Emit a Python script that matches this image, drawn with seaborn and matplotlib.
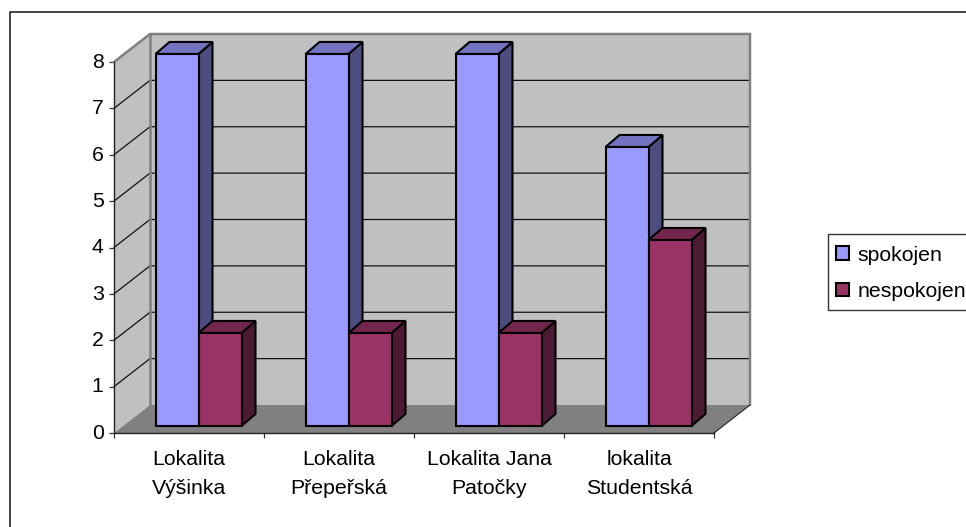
import matplotlib
matplotlib.use("Agg")
import matplotlib.pyplot as plt
from matplotlib.lines import Line2D
from matplotlib.patches import Polygon, Rectangle
from matplotlib.transforms import ScaledTranslation
import pandas as pd
import seaborn as sns

# Survey results per locality
localities = ["Lokalita\nVýšinka", "Lokalita\nPřepeřská", "Lokalita Jana\nPatočky", "lokalita\nStudentská"]
spokojen = [8, 8, 8, 6]
nespokojen = [2, 2, 2, 4]
series_names = ["spokojen", "nespokojen"]
y_ticks = [0, 1, 2, 3, 4, 5, 6, 7, 8]

# Face colours of each series: front, top, side
FACES = {
    "spokojen": ("#9999FF", "#7373BF", "#4D4D80"),
    "nespokojen": ("#993366", "#73264D", "#4D1A33"),
}

W, H = 966, 527
sns.set_theme(style="white")
plt.rcParams["font.family"] = ["Liberation Sans", "DejaVu Sans"]
FS = 15.3

fig = plt.figure(figsize=(W / 100, H / 100), dpi=100, facecolor="white")


def axes_box(left, right, bottom, top):
    """Axes rectangle from pixel edges measured from the top-left corner."""
    return [left / W, 1 - bottom / H, (right - left) / W, (bottom - top) / H]


# Front plane of the box, with the value scale and the category ticks
ax = fig.add_axes(axes_box(114, 714, 433, 62))
ax.set_xlim(-0.5, 3.5)
ax.set_ylim(0, 8)
ax.patch.set_visible(False)

# Depth of the box and of the bars, in data units
BOX_DX, BOX_DY = 36 / 150, 28 / 46.375
BAR_DX, BAR_DY = 14 / 150, 12 / 46.375

x0, x1 = ax.get_xlim()
y0, y1 = ax.get_ylim()

# Walls and floor
WALL, EDGE = "#C0C0C0", "#808080"
ax.add_patch(Polygon([(x0 + BOX_DX, y0 + BOX_DY), (x1 + BOX_DX, y0 + BOX_DY),
                      (x1 + BOX_DX, y1 + BOX_DY), (x0 + BOX_DX, y1 + BOX_DY)],
                     closed=True, fc=WALL, ec="none", clip_on=False, zorder=0.5))
ax.add_patch(Polygon([(x0, y0), (x0 + BOX_DX, y0 + BOX_DY),
                      (x0 + BOX_DX, y1 + BOX_DY), (x0, y1)],
                     closed=True, fc=WALL, ec="none", clip_on=False, zorder=0.5))

# Gridlines run along the left wall and across the back wall
for v in y_ticks[1:-1]:
    ax.plot([x0, x0 + BOX_DX, x1 + BOX_DX], [v, v + BOX_DY, v + BOX_DY],
            color="#111111", lw=0.9, clip_on=False, zorder=0.7, solid_joinstyle="miter")

ax.add_patch(Polygon([(x0, y0), (x1, y0), (x1 + BOX_DX, y0 + BOX_DY), (x0 + BOX_DX, y0 + BOX_DY)],
                     closed=True, fc=EDGE, ec="none", clip_on=False, zorder=0.8))
ax.plot([x0, x0 + BOX_DX, x1 + BOX_DX, x1 + BOX_DX],
        [y1, y1 + BOX_DY, y1 + BOX_DY, y0 + BOX_DY],
        color=EDGE, lw=1.8, clip_on=False, zorder=0.9, solid_joinstyle="miter")
ax.plot([x0 + BOX_DX, x0 + BOX_DX], [y0 + BOX_DY, y1 + BOX_DY],
        color=EDGE, lw=1.8, clip_on=False, zorder=0.9)
ax.plot([x1, x1 + BOX_DX], [y0, y0 + BOX_DY], color="#222222", lw=0.8, clip_on=False, zorder=0.9)

# Axes lines and labels
for side in ("top", "right"):
    ax.spines[side].set_visible(False)
for side in ("left", "bottom"):
    ax.spines[side].set_color("#222222")
    ax.spines[side].set_linewidth(1.0)
    ax.spines[side].set_zorder(1)
ax.set_yticks(y_ticks)
ax.set_xticks([-0.5, 0.5, 1.5, 2.5, 3.5])
ax.set_xticklabels([])
ax.set_xticks([0, 1, 2, 3], labels=localities, minor=True)
ax.tick_params(axis="both", which="major", length=3.5, width=0.9, color="#333333",
               left=True, bottom=True, labelsize=FS, labelcolor="black", pad=4)
ax.tick_params(axis="x", which="minor", length=0, bottom=False, labelsize=FS, labelcolor="black", pad=12)
for lab in ax.get_xticklabels(minor=True):
    lab.set_linespacing(1.72)
    lab.set_ha("center")
for lab in ax.get_yticklabels():
    lab.set_transform(lab.get_transform() + ScaledTranslation(0, 1.2 / 72, fig.dpi_scale_trans))

# Bars stand on a plane set slightly inside the box
bar_ax = fig.add_axes(axes_box(123.5, 723.5, 426, 54))
bar_ax.patch.set_visible(False)
df = pd.DataFrame({
    "lokalita": localities * 2,
    "serie": [series_names[0]] * 4 + [series_names[1]] * 4,
    "pocet": spokojen + nespokojen,
})
sns.barplot(data=df, x="lokalita", y="pocet", hue="serie", hue_order=series_names,
            palette=[FACES[n][0] for n in series_names], width=86 / 150, gap=0,
            saturation=1, edgecolor="black", linewidth=1.5, ax=bar_ax, legend=True)
bar_ax.set_xlim(x0, x1)
bar_ax.set_ylim(y0, y1)
bar_ax.axis("off")

# Top and side faces follow each drawn bar
for s_idx, (name, container) in enumerate(zip(series_names, bar_ax.containers)):
    _, top_col, side_col = FACES[name]
    for c_idx, bar in enumerate(container):
        base_z = 3 + c_idx + s_idx * 0.3
        bx, bw, bh = bar.get_x(), bar.get_width(), bar.get_height()
        r = bx + bw
        bar_ax.add_patch(Polygon([(r, 0), (r + BAR_DX, BAR_DY), (r + BAR_DX, bh + BAR_DY), (r, bh)],
                                 closed=True, fc=side_col, ec="black", lw=1.5, clip_on=False,
                                 zorder=base_z, joinstyle="miter"))
        bar_ax.add_patch(Polygon([(bx, bh), (r, bh), (r + BAR_DX, bh + BAR_DY), (bx + BAR_DX, bh + BAR_DY)],
                                 closed=True, fc=top_col, ec="black", lw=1.5, clip_on=False,
                                 zorder=base_z, joinstyle="miter"))
        bar.set_zorder(base_z + 0.1)
        bar.set_clip_on(False)
        bar.set_joinstyle("miter")

# Legend box runs up to the right-hand edge of the figure
handles, labels = bar_ax.get_legend_handles_labels()
bar_ax.get_legend().remove()
fig.add_artist(Rectangle((828 / W, 1 - 310 / H), 1, 76 / H, transform=fig.transFigure,
                         fc="white", ec="#333333", lw=1.0))
leg = fig.legend(handles, labels, loc="upper left", bbox_to_anchor=(824.5 / W, 1 - 234 / H),
                 borderaxespad=0, fontsize=FS, frameon=False, handlelength=0.6, handleheight=0.6,
                 handletextpad=0.4, labelspacing=0.82, borderpad=0.55)
for t in leg.get_texts():
    t.set_color("black")

# Frame of the chart area, open to the right and bottom
fig.add_artist(Line2D([10 / W, 10 / W, 1], [0, 1 - 12 / H, 1 - 12 / H], color="#222222", lw=1.2))

fig.savefig("out.png", dpi=100, facecolor="white")
